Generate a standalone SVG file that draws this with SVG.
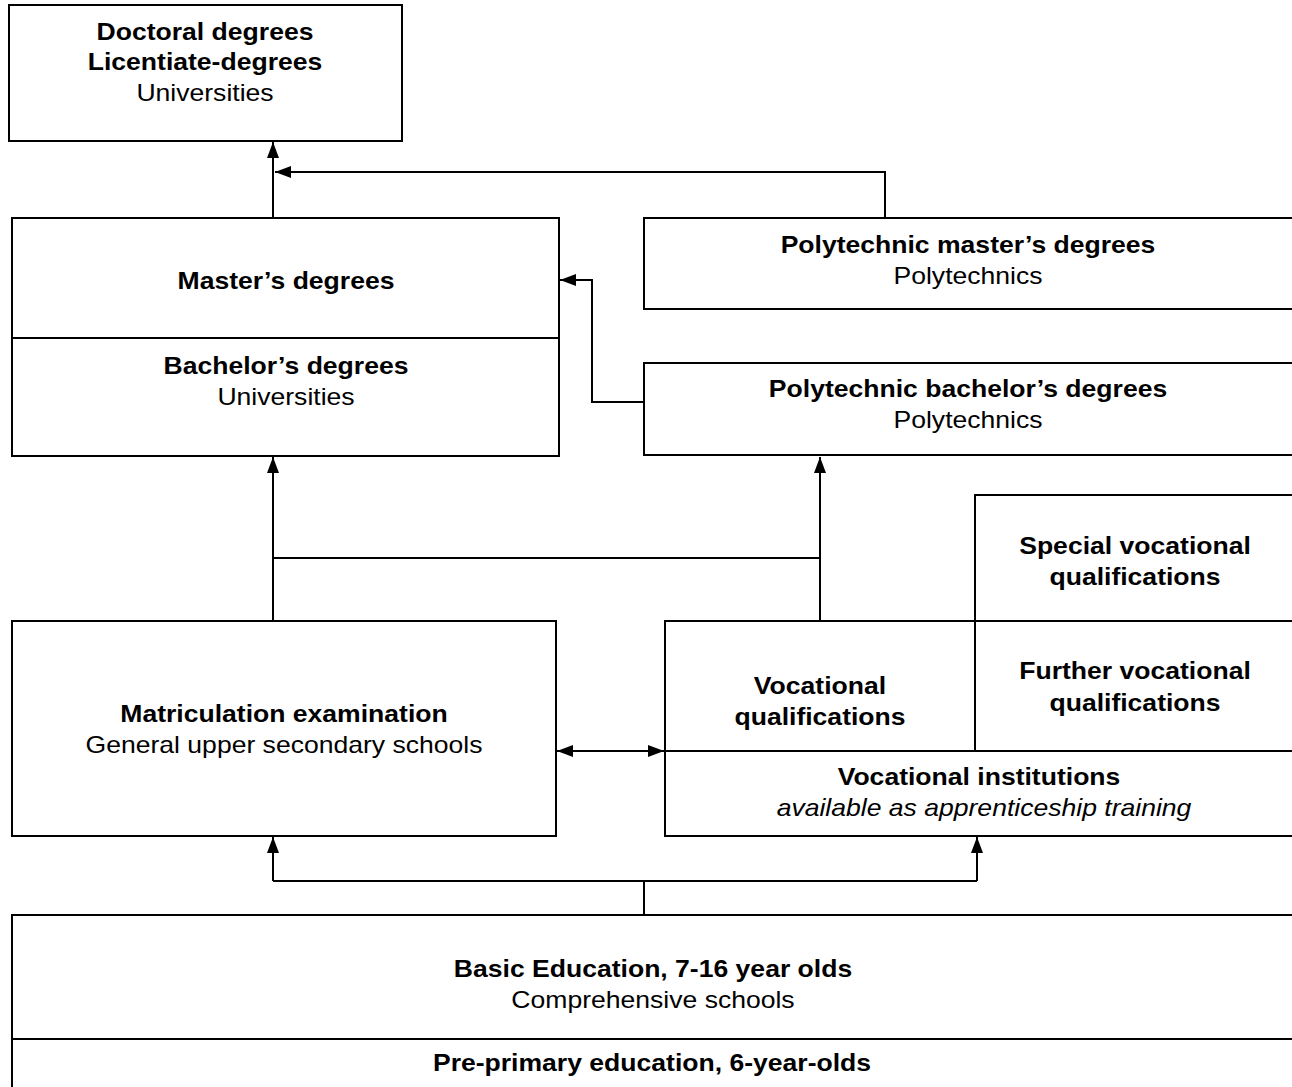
<svg xmlns="http://www.w3.org/2000/svg" width="1292" height="1087" viewBox="0 0 1292 1087">
<style>
.box{fill:#fff;stroke:#000;stroke-width:2}
.ln{fill:none;stroke:#000;stroke-width:2}
text{font-family:"Liberation Sans",Arial,sans-serif;font-size:23px;text-anchor:middle;fill:#000}
.b{font-weight:bold}
.i{font-style:italic}
</style>
<defs>
<marker id="ah" viewBox="0 0 16 12" refX="16" refY="6" markerWidth="16" markerHeight="12" markerUnits="userSpaceOnUse" orient="auto-start-reverse">
<path d="M0,0 L16,6 L0,12 z" fill="#000"/>
</marker>
</defs>
<g id="connectors">
<path class="ln" d="M273,218 V142" marker-end="url(#ah)"/>
<path class="ln" d="M885,218 V172 H275" marker-end="url(#ah)"/>
<path class="ln" d="M644,402 H592 V280 H560" marker-end="url(#ah)"/>
<path class="ln" d="M273,621 V457" marker-end="url(#ah)"/>
<path class="ln" d="M273,558 H820"/>
<path class="ln" d="M820,621 V457" marker-end="url(#ah)"/>
<path class="ln" d="M557,751 H664" marker-start="url(#ah)" marker-end="url(#ah)"/>
<path class="ln" d="M644,915 V881"/>
<path class="ln" d="M273,881 H977"/>
<path class="ln" d="M273,881 V837" marker-end="url(#ah)"/>
<path class="ln" d="M977,881 V837" marker-end="url(#ah)"/>
</g>
<g id="doctoral">
<rect class="box" x="9" y="5" width="393" height="136"/>
<text class="b" transform="translate(205,40) scale(1.155,1)">Doctoral degrees</text>
<text class="b" transform="translate(205,70) scale(1.155,1)">Licentiate-degrees</text>
<text transform="translate(205,101) scale(1.155,1)">Universities</text>
</g>
<g id="university">
<rect class="box" x="12" y="218" width="547" height="238"/>
<line class="ln" x1="12" y1="338" x2="559" y2="338"/>
<text class="b" transform="translate(286,289) scale(1.155,1)">Master’s degrees</text>
<text class="b" transform="translate(286,374) scale(1.155,1)">Bachelor’s degrees</text>
<text transform="translate(286,405) scale(1.155,1)">Universities</text>
</g>
<g id="poly-master">
<rect class="box" x="644" y="218" width="660" height="91"/>
<text class="b" transform="translate(968,253) scale(1.155,1)">Polytechnic master’s degrees</text>
<text transform="translate(968,284) scale(1.155,1)">Polytechnics</text>
</g>
<g id="poly-bachelor">
<rect class="box" x="644" y="363" width="660" height="92"/>
<text class="b" transform="translate(968,397) scale(1.155,1)">Polytechnic bachelor’s degrees</text>
<text transform="translate(968,428) scale(1.155,1)">Polytechnics</text>
</g>
<g id="special">
<rect class="box" x="975" y="495" width="330" height="126"/>
<text class="b" transform="translate(1135,554) scale(1.155,1)">Special vocational</text>
<text class="b" transform="translate(1135,585) scale(1.155,1)">qualifications</text>
</g>
<g id="vocational">
<rect class="box" x="665" y="621" width="640" height="215"/>
<line class="ln" x1="665" y1="751" x2="1292" y2="751"/>
<text class="b" transform="translate(820,694) scale(1.155,1)">Vocational</text>
<text class="b" transform="translate(820,725) scale(1.155,1)">qualifications</text>
<text class="b" transform="translate(979,785) scale(1.155,1)">Vocational institutions</text>
<text class="i" transform="translate(984,816) scale(1.155,1)">available as apprenticeship training</text>
</g>
<g id="further">
<rect class="box" x="975" y="621" width="330" height="130"/>
<text class="b" transform="translate(1135,679) scale(1.155,1)">Further vocational</text>
<text class="b" transform="translate(1135,711) scale(1.155,1)">qualifications</text>
</g>
<g id="matriculation">
<rect class="box" x="12" y="621" width="544" height="215"/>
<text class="b" transform="translate(284,722) scale(1.155,1)">Matriculation examination</text>
<text transform="translate(284,753) scale(1.155,1)">General upper secondary schools</text>
</g>
<g id="basic">
<rect class="box" x="12" y="915" width="1300" height="190"/>
<line class="ln" x1="12" y1="1039" x2="1292" y2="1039"/>
<text class="b" transform="translate(653,977) scale(1.155,1)">Basic Education, 7-16 year olds</text>
<text transform="translate(653,1008) scale(1.155,1)">Comprehensive schools</text>
<text class="b" transform="translate(652,1071) scale(1.155,1)">Pre-primary education, 6-year-olds</text>
</g>
</svg>
